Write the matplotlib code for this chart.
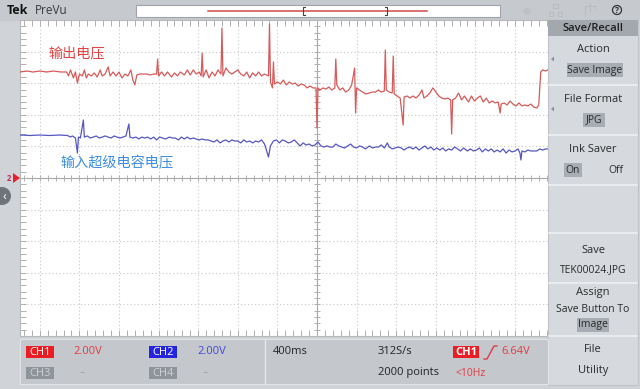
import matplotlib
matplotlib.use("Agg")
import matplotlib.pyplot as plt
from matplotlib.patches import Rectangle, Polygon, Circle
from matplotlib.collections import LineCollection

plt.rcParams['font.family'] = ['Open Sans', 'DejaVu Sans']

# Timebase 400 ms/div, 15 divisions -> 6 s on screen (time from left edge)
time_div_s = 0.4
volt_div = 2.0

# CH1: output voltage
ch1_t = [0.00, 0.07, 0.13, 0.20, 0.27, 0.34, 0.41, 0.47, 0.49, 0.51, 0.54, 0.56, 0.58, 0.60,
         0.63, 0.65, 0.67, 0.69, 0.72, 0.75, 0.78, 0.81, 0.83, 0.86, 0.89, 0.91, 0.94, 0.97,
         1.00, 1.03, 1.06, 1.09, 1.12, 1.14, 1.16, 1.18, 1.21, 1.24, 1.28, 1.31, 1.35, 1.38,
         1.39, 1.40, 1.43, 1.46, 1.49, 1.53, 1.56, 1.59, 1.62, 1.66, 1.69, 1.72, 1.75, 1.78,
         1.81, 1.83, 1.84, 1.85, 1.88, 1.91, 1.94, 1.97, 2.00, 2.03, 2.04, 2.05, 2.08, 2.11,
         2.14, 2.17, 2.20, 2.23, 2.26, 2.29, 2.32, 2.35, 2.38, 2.41, 2.44, 2.47, 2.51, 2.52,
         2.53, 2.55, 2.56, 2.57, 2.60, 2.63, 2.66, 2.69, 2.72, 2.75, 2.78, 2.81, 2.84, 2.87,
         2.90, 2.93, 2.96, 2.99, 3.00, 3.01, 3.03, 3.06, 3.09, 3.12, 3.15, 3.18, 3.19, 3.20,
         3.23, 3.26, 3.29, 3.32, 3.35, 3.38, 3.39, 3.40, 3.43, 3.46, 3.49, 3.53, 3.56, 3.59,
         3.62, 3.65, 3.68, 3.69, 3.70, 3.73, 3.76, 3.77, 3.78, 3.81, 3.84, 3.87, 3.88, 3.91,
         3.94, 3.97, 4.00, 4.03, 4.06, 4.08, 4.11, 4.14, 4.17, 4.20, 4.23, 4.26, 4.29, 4.32,
         4.35, 4.36, 4.37, 4.40, 4.43, 4.46, 4.49, 4.53, 4.56, 4.59, 4.62, 4.65, 4.68, 4.71,
         4.74, 4.77, 4.80, 4.83, 4.85, 4.86, 4.89, 4.92, 4.95, 4.98, 5.01, 5.04, 5.07, 5.10,
         5.13, 5.16, 5.19, 5.22, 5.24, 5.26, 5.28, 5.31, 5.33]
ch1_v = [6.71, 6.77, 6.71, 6.77, 6.71, 6.77, 6.71, 6.71, 6.46, 6.84, 6.33, 6.71, 6.01, 6.58,
         6.46, 6.84, 6.33, 6.58, 6.46, 6.65, 6.39, 6.84, 6.46, 6.58, 7.03, 6.46, 6.71, 6.46,
         6.71, 6.33, 6.58, 6.46, 6.84, 6.20, 5.89, 6.52, 6.58, 6.58, 6.58, 6.52, 6.58, 6.58,
         7.53, 6.46, 6.71, 6.46, 6.71, 6.39, 6.65, 6.46, 6.71, 6.52, 6.84, 6.52, 6.84, 6.58,
         6.71, 6.46, 7.91, 6.39, 6.84, 6.33, 6.71, 6.46, 6.84, 6.58, 9.49, 6.46, 6.96, 6.71,
         6.58, 6.71, 6.84, 6.58, 6.46, 6.71, 6.33, 6.65, 6.46, 6.71, 6.46, 6.58, 6.46, 9.75,
         6.08, 5.70, 7.34, 5.95, 6.08, 5.95, 6.20, 5.89, 6.08, 5.95, 6.01, 5.82, 5.95, 5.89,
         5.70, 5.82, 5.70, 5.70, 3.16, 5.70, 5.57, 5.70, 5.63, 5.76, 5.57, 5.70, 7.53, 5.89,
         5.57, 5.70, 5.44, 5.57, 5.89, 6.96, 4.11, 5.70, 5.57, 5.44, 5.32, 5.38, 5.44, 5.44,
         5.57, 5.44, 5.51, 8.10, 5.57, 5.44, 5.38, 7.72, 5.32, 5.19, 5.06, 3.35, 5.13, 5.19,
         5.06, 5.19, 5.06, 5.25, 5.57, 5.06, 5.19, 5.38, 5.70, 5.44, 5.19, 5.06, 5.00, 5.06,
         4.94, 2.78, 4.94, 5.06, 5.38, 4.94, 5.19, 4.81, 5.19, 4.87, 5.06, 5.19, 4.81, 5.06,
         4.75, 4.87, 4.75, 4.81, 4.11, 4.68, 4.75, 4.62, 4.87, 4.68, 4.56, 4.75, 4.56, 4.62,
         4.56, 4.68, 4.49, 4.43, 4.62, 6.71, 6.84, 6.77, 6.84]

# CH2: supercapacitor input voltage
ch2_t = [0.00, 0.10, 0.20, 0.30, 0.40, 0.48, 0.51, 0.53, 0.56, 0.58, 0.59, 0.61, 0.64, 0.65,
         0.68, 0.71, 0.74, 0.77, 0.80, 0.83, 0.86, 0.89, 0.92, 0.95, 0.98, 1.01, 1.04, 1.07,
         1.10, 1.11, 1.14, 1.17, 1.20, 1.23, 1.26, 1.29, 1.32, 1.35, 1.38, 1.41, 1.44, 1.47,
         1.51, 1.54, 1.57, 1.60, 1.63, 1.66, 1.69, 1.72, 1.75, 1.78, 1.81, 1.84, 1.87, 1.90,
         1.93, 1.96, 1.99, 2.02, 2.05, 2.08, 2.11, 2.14, 2.17, 2.20, 2.23, 2.26, 2.29, 2.32,
         2.35, 2.38, 2.41, 2.44, 2.47, 2.51, 2.53, 2.56, 2.59, 2.62, 2.65, 2.68, 2.71, 2.74,
         2.77, 2.80, 2.83, 2.86, 2.89, 2.92, 2.95, 2.98, 3.01, 3.04, 3.07, 3.10, 3.13, 3.16,
         3.19, 3.22, 3.25, 3.28, 3.31, 3.34, 3.37, 3.40, 3.43, 3.46, 3.49, 3.53, 3.56, 3.59,
         3.62, 3.65, 3.68, 3.71, 3.73, 3.76, 3.79, 3.82, 3.85, 3.88, 3.91, 3.94, 3.97, 4.00,
         4.03, 4.06, 4.09, 4.12, 4.15, 4.18, 4.21, 4.24, 4.27, 4.30, 4.33, 4.36, 4.39, 4.42,
         4.45, 4.48, 4.52, 4.55, 4.58, 4.61, 4.64, 4.67, 4.70, 4.73, 4.76, 4.79, 4.82, 4.85,
         4.88, 4.91, 4.94, 4.97, 5.00, 5.03, 5.05, 5.06, 5.07, 5.10, 5.13, 5.16, 5.19, 5.22,
         5.25, 5.28, 5.31, 5.33]
ch2_v = [2.72, 2.69, 2.72, 2.69, 2.72, 2.69, 2.59, 2.66, 2.53, 1.58, 2.59, 2.53, 3.67, 2.59,
         2.66, 2.53, 2.59, 2.66, 2.53, 2.59, 2.66, 2.59, 2.53, 2.66, 2.59, 2.53, 2.59, 2.66,
         3.42, 2.59, 2.53, 2.59, 2.47, 2.59, 2.53, 2.59, 2.47, 2.59, 2.41, 2.59, 2.53, 2.47,
         2.59, 2.53, 2.53, 2.41, 2.59, 2.47, 2.59, 2.47, 2.53, 2.47, 2.41, 2.47, 2.41, 2.41,
         2.34, 2.28, 2.41, 2.22, 2.34, 2.41, 2.28, 2.41, 2.34, 2.34, 2.22, 2.41, 2.28, 2.34,
         2.22, 2.34, 2.28, 2.41, 2.15, 1.33, 2.03, 2.34, 2.41, 2.22, 2.41, 2.34, 2.22, 2.28,
         2.41, 2.22, 2.03, 2.22, 2.09, 2.15, 2.03, 2.09, 2.28, 2.03, 1.96, 2.03, 1.96, 1.96,
         2.15, 2.03, 1.96, 1.90, 2.03, 2.15, 1.96, 1.90, 2.03, 1.96, 1.84, 2.03, 1.90, 1.96,
         1.96, 2.09, 1.90, 2.22, 1.96, 1.84, 1.90, 1.96, 1.90, 1.77, 1.90, 1.96, 1.84, 1.96,
         1.77, 1.90, 2.03, 1.84, 1.96, 1.77, 1.90, 1.77, 1.90, 1.71, 1.84, 1.77, 1.96, 1.84,
         1.71, 1.90, 1.71, 1.84, 1.71, 1.77, 1.90, 1.65, 1.84, 1.71, 1.84, 1.65, 1.77, 1.65,
         1.84, 1.58, 1.77, 1.65, 1.71, 1.84, 1.58, 1.14, 1.71, 1.65, 1.77, 1.71, 1.71, 1.71,
         1.84, 1.77, 1.84, 1.84]

ch1_label = "输出电压"
ch2_label = "输入超级电容电压"
panel_items = ["Action", "File Format", "Ink Saver", "Save", "Assign"]

W, H = 640, 389
fig = plt.figure(figsize=(6.4, 3.89), dpi=100)

# background chrome
bg = fig.add_axes([0, 0, 1, 1])
bg.set_xlim(0, W)
bg.set_ylim(H, 0)
bg.axis('off')
bg.add_patch(Rectangle((0, 0), W, H, color='#d0d3d7'))
bg.add_patch(Rectangle((0, 0), W, 20, color='#c6cace'))

# scope graticule: 15 x 10 divisions, centre at 3.0 s / 0 V
ax = fig.add_axes([20 / W, (H - 336) / H, 594 / W, 316 / H], zorder=1)
ax.set_facecolor('white')
ax.set_xlim(0, 15 * time_div_s)
ax.set_ylim(-5 * volt_div, 5 * volt_div)
ax.set_xticks([])
ax.set_yticks([])
for s in ax.spines.values():
    s.set_color('#b8b8b8')
    s.set_linewidth(0.8)

t_mid = 7.5 * time_div_s
for k in range(-7, 8):
    t = t_mid + k * time_div_s
    if k == 0:
        ax.axvline(t, color='#a8a8a8', lw=0.8)
    else:
        ax.axvline(t, color='#c8c8c8', lw=0.8, ls=(0, (1, 2.2)))
for k in range(-4, 5):
    v = k * volt_div
    if k == 0:
        ax.axhline(v, color='#a8a8a8', lw=0.8)
    else:
        ax.axhline(v, color='#c8c8c8', lw=0.8, ls=(0, (1, 2.2)))

segs = []
tx = 3.0 / 99
ty = 3.0 / 15.8
for i in range(-37, 38):
    t = t_mid + i * time_div_s / 5
    segs.append([(t, -ty), (t, ty)])
    segs.append([(t, -10), (t, -10 + 2 * ty)])
    segs.append([(t, 10), (t, 10 - 2 * ty)])
for i in range(-24, 25):
    v = i * volt_div / 5
    segs.append([(t_mid - tx, v), (t_mid + tx, v)])
    segs.append([(0, v), (2 * tx, v)])
ax.add_collection(LineCollection(segs, colors='#b0b0b0', linewidths=0.7))

ax.plot(ch1_t, ch1_v, color='#d65a5a', lw=0.9, zorder=3)
ax.plot(ch2_t, ch2_v, color='#5656c4', lw=0.9, zorder=3)

# foreground overlay (labels, panels)
fg = fig.add_axes([0, 0, 1, 1], zorder=2)
fg.set_xlim(0, W)
fg.set_ylim(H, 0)
fg.axis('off')
fg.patch.set_alpha(0)

fg.text(48, 53, ch1_label, color='#e64444', fontsize=10.2, va='center',
        family=['Noto Sans CJK SC', 'DejaVu Sans'])
fg.text(60, 162, ch2_label, color='#3d8fe2', fontsize=10.2, va='center',
        family=['Noto Sans CJK SC', 'DejaVu Sans'])

# top bar
fg.text(7, 10, "Tek", fontsize=9, fontweight='bold', color='#111', va='center')
fg.text(35, 10, "PreVu", fontsize=8.5, color='#3a3a3a', va='center')
fg.add_patch(Rectangle((136, 5), 364, 12, fc='white', ec='#a0a4aa', lw=0.8))
fg.plot([208, 427], [11, 11], color='#d04a4a', lw=1.1)
fg.plot([305, 303, 303, 305], [7, 7, 15, 15], color='#444', lw=0.8)
fg.plot([385, 387, 387, 385], [7, 7, 15, 15], color='#444', lw=0.8)
fg.add_patch(Circle((617, 10), 4.5, fc='none', ec='#333', lw=0.9))
fg.text(617, 10.3, "?", fontsize=6, color='#333', ha='center', va='center', fontweight='bold')
# faint status icons
fg.plot([585, 585, 595, 595], [14, 6, 6, 8], color='#b9bdc2', lw=0.8)
fg.plot([590, 590], [4, 11], color='#b9bdc2', lw=0.8)
fg.add_patch(Rectangle((553, 4), 5, 4, fc='none', ec='#b9bdc2', lw=0.8))
fg.add_patch(Rectangle((549, 12), 4, 4, fc='none', ec='#b9bdc2', lw=0.8))
fg.add_patch(Rectangle((558, 12), 4, 4, fc='none', ec='#b9bdc2', lw=0.8))
for r in (2, 4.5, 7):
    th = [i / 10 for i in range(-5, 6)]
    fg.plot([527 + r * x for x in th], [15 - r * (1 - abs(x)) for x in th], color='#b9bdc2', lw=0.8)

# left side markers
fg.add_patch(Circle((2, 196), 9, fc='#6f737a', ec='none'))
fg.text(4, 196, "‹", color='white', fontsize=9, ha='center', va='center')
fg.text(9, 178, "2", color='#c02a60', fontsize=5.5, fontweight='bold', ha='center', va='center')
fg.add_patch(Polygon([(13, 173), (13, 183), (20, 178)], fc='#e8202a', ec='none'))

# right menu panel
fg.add_patch(Rectangle((548, 20), 90, 365, fc='#d6dade', ec='#c0c4c9', lw=0.8))
fg.add_patch(Rectangle((548, 20), 90, 16, fc='#a3a8af', ec='none'))
fg.text(593, 28, "Save/Recall", fontsize=8, color='#1e1e1e', ha='center', va='center',
        fontweight='semibold')
for y in (85, 135, 185, 233, 283, 336):
    fg.plot([549, 637], [y, y], color='#eef0f2', lw=1.2)

pc = '#2a2a2a'
fg.text(593, 49, panel_items[0], fontsize=8, color=pc, ha='center', va='center')
fg.add_patch(Rectangle((567, 63), 56, 14, fc='#a8adb4', ec='none'))
fg.text(595, 70, "Save Image", fontsize=7.5, color=pc, ha='center', va='center')
fg.text(593, 99, panel_items[1], fontsize=8, color=pc, ha='center', va='center')
fg.add_patch(Rectangle((583, 113), 22, 14, fc='#a8adb4', ec='none'))
fg.text(594, 120, "JPG", fontsize=7.5, color=pc, ha='center', va='center')
fg.text(593, 149, panel_items[2], fontsize=8, color=pc, ha='center', va='center')
fg.add_patch(Rectangle((564, 163), 18, 14, fc='#a8adb4', ec='none'))
fg.text(573, 170, "On", fontsize=7.5, color=pc, ha='center', va='center')
fg.text(616, 170, "Off", fontsize=7.5, color=pc, ha='center', va='center')
for y in (59, 109):
    fg.add_patch(Polygon([(551, y), (554, y - 2.5), (554, y + 2.5)], fc='#8c9198', ec='none'))

fg.text(593, 250, panel_items[3], fontsize=8, color=pc, ha='center', va='center')
fg.text(593, 270, "TEK00024.JPG", fontsize=7.5, color=pc, ha='center', va='center')
fg.text(593, 293, panel_items[4], fontsize=8, color=pc, ha='center', va='center')
fg.text(593, 309, "Save Button To", fontsize=7.5, color=pc, ha='center', va='center')
fg.add_patch(Rectangle((577, 318), 32, 14, fc='#a8adb4', ec='none'))
fg.text(593, 325, "Image", fontsize=7.5, color=pc, ha='center', va='center')
fg.text(593, 349, "File", fontsize=8, color=pc, ha='center', va='center')
fg.text(593, 370, "Utility", fontsize=8, color=pc, ha='center', va='center')

# bottom status bar
fg.add_patch(Rectangle((20, 339), 528, 45, fc='#c4c8cd', ec='#e2e4e7', lw=0.8))
fg.plot([265, 265], [340, 383], color='#e6e8eb', lw=1)


def chan_box(x, y, label, fc, tc):
    fg.add_patch(Rectangle((x, y), 28, 12, fc=fc, ec='none'))
    fg.text(x + 14, y + 6.3, label, fontsize=8, color=tc, ha='center', va='center')


chan_box(26, 346, "CH1", '#ea1c24', 'white')
chan_box(149, 346, "CH2", '#2424dc', 'white')
chan_box(26, 367, "CH3", '#8f949a', '#cdd0d4')
chan_box(149, 367, "CH4", '#8f949a', '#cdd0d4')
fg.text(73, 352, "2.00V", fontsize=8, color='#e23a42', va='center')
fg.text(197, 352, "2.00V", fontsize=8, color='#4646da', va='center')
fg.text(80, 373, "--", fontsize=7, color='#9aa0a6', va='center')
fg.text(203, 373, "--", fontsize=7, color='#9aa0a6', va='center')
fg.text(273, 352, "400ms", fontsize=8, color='#222', va='center')
fg.text(378, 352, "312S/s", fontsize=8, color='#222', va='center')
fg.text(378, 373, "2000 points", fontsize=8, color='#222', va='center')
fg.add_patch(Rectangle((453, 346), 26, 12, fc='#ea1c24', ec='none'))
fg.text(466, 352.3, "CH1", fontsize=8, color='white', ha='center', va='center', fontweight='bold')
fg.plot([484, 487, 494, 497], [359, 359, 346, 346], color='#e23a42', lw=1)
fg.text(501, 352, "6.64V", fontsize=8, color='#e23a42', va='center')
fg.text(455, 373, "<10Hz", fontsize=7.5, color='#e23a42', va='center')

fig.savefig("out.png", dpi=100)
